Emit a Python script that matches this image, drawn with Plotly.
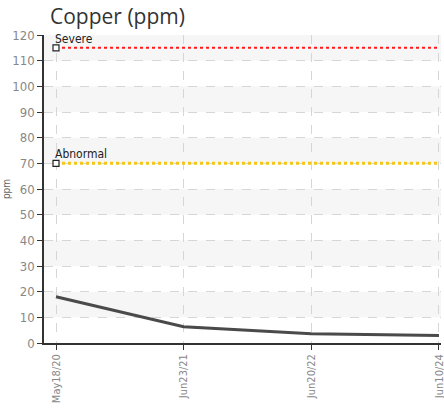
import plotly.graph_objects as go

dates = ["May18/20", "Jun23/21", "Jun20/22", "Jun10/24"]
copper = [18, 6.3, 3.6, 2.9]
severe_level = 115
abnormal_level = 70
y_ticks = list(range(0, 121, 10))

fig = go.Figure()

# alternating bands
for lo in range(10, 120, 20):
    fig.add_shape(type="rect", xref="paper", yref="y", x0=0, x1=1, y0=lo, y1=lo + 10,
                  fillcolor="#f6f6f6", line_width=0, layer="below")

fig.add_trace(go.Scatter(x=dates, y=[severe_level] * len(dates), mode="lines",
                         line=dict(color="#ff1a1a", width=2, dash="dot"), hoverinfo="skip"))
fig.add_trace(go.Scatter(x=dates, y=[abnormal_level] * len(dates), mode="lines",
                         line=dict(color="#f5c518", width=3, dash="dot"), hoverinfo="skip"))
fig.add_trace(go.Scatter(x=[dates[0], dates[0]], y=[severe_level, abnormal_level], mode="markers",
                         marker=dict(symbol="square", size=6, color="white",
                                     line=dict(color="#222", width=1.2)), hoverinfo="skip"))
fig.add_trace(go.Scatter(x=dates, y=copper, mode="lines",
                         line=dict(color="#4a4a4a", width=3), hoverinfo="skip"))

for lvl, txt in [(severe_level, "Severe"), (abnormal_level, "Abnormal")]:
    fig.add_annotation(x=dates[0], y=lvl, text=txt, showarrow=False, xanchor="left",
                       yanchor="bottom", xshift=-3, yshift=0,
                       font=dict(family="DejaVu Sans Condensed", size=12, color="#222"))

fig.update_layout(
    width=444, height=410,
    margin=dict(l=44, r=3, t=35, b=67),
    plot_bgcolor="white", paper_bgcolor="white",
    showlegend=False,
    title=dict(text="Copper (ppm)", x=50 / 444, xanchor="left", xref="container",
               y=1 - 17 / 410, yanchor="middle",
               font=dict(family="Open Sans", size=21, color="#333")),
    xaxis=dict(type="category", range=[-0.094, 3.016], tickangle=-90,
               showline=True, linecolor="#333", linewidth=1.5,
               ticks="outside", ticklen=5, tickcolor="#333",
               showgrid=True, gridcolor="#d6d6d6", griddash="dash",
               tickfont=dict(family="DejaVu Sans Condensed", size=11, color="#888"),
               zeroline=False, automargin=False, ticklabeloverflow="allow"),
    yaxis=dict(range=[0, 120], tickvals=y_ticks,
               showline=True, linecolor="#333", linewidth=1.5,
               ticks="outside", ticklen=5, tickcolor="#333",
               showgrid=True, gridcolor="#d6d6d6", griddash="dash",
               tickfont=dict(family="DejaVu Sans Condensed", size=13, color="#888"),
               title=dict(text="ppm", standoff=0,
                          font=dict(family="DejaVu Sans Condensed", size=10, color="#666")),
               zeroline=False, automargin=False),
)

fig.write_html("out.html", config={"displayModeBar": False},
               post_script="document.body.style.margin='0';document.body.style.overflow='hidden';")
